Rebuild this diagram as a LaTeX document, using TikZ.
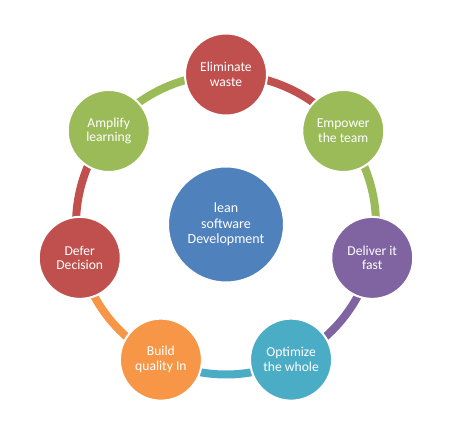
\documentclass[tikz,border=0pt]{standalone}
\usepackage{fontspec}
\setmainfont{Carlito}
\usetikzlibrary{calc}
\definecolor{cred}{HTML}{C0504D}
\definecolor{cgreen}{HTML}{9BBB59}
\definecolor{cpurple}{HTML}{8064A2}
\definecolor{cteal}{HTML}{4BACC6}
\definecolor{corange}{HTML}{F79646}
\definecolor{cblue}{HTML}{4F81BD}
\tikzset{
  bubble/.style={circle, fill=#1, draw=white, line width=2pt, minimum size=82pt,
    inner sep=0pt, align=center, text=white, font=\fontsize{13.6}{14.7}\selectfont},
  hub/.style={circle, fill=cblue, draw=white, line width=2pt, minimum size=116pt,
    inner sep=0pt, align=center, text=white, font=\fontsize{14}{15.7}\selectfont},
  band/.style={line width=8pt, draw=#1}
}
\begin{document}
\begin{tikzpicture}[x=1pt,y=1pt]
\useasboundingbox (0,0) rectangle (450,421);
\coordinate (c) at (226,196.5);
\coordinate (p1) at ($(c)+(90:150)$);
\coordinate (p2) at ($(c)+(38.571:150)$);
\coordinate (p3) at ($(c)+(-12.857:150)$);
\coordinate (p4) at ($(c)+(-64.286:150)$);
\coordinate (p5) at ($(c)+(-115.714:150)$);
\coordinate (p6) at ($(c)+(-167.143:150)$);
\coordinate (p7) at ($(c)+(141.429:150)$);
\draw[band=cred]    (p1) arc[start angle=90, end angle=38.571, radius=150];
\draw[band=cgreen]  (p2) arc[start angle=38.571, end angle=-12.857, radius=150];
\draw[band=cpurple] (p3) arc[start angle=-12.857, end angle=-64.286, radius=150];
\draw[band=cteal]   (p4) arc[start angle=-64.286, end angle=-115.714, radius=150];
\draw[band=corange] (p5) arc[start angle=-115.714, end angle=-167.143, radius=150];
\draw[band=cred]    (p6) arc[start angle=-167.143, end angle=-218.571, radius=150];
\draw[band=cgreen]  (p7) arc[start angle=141.429, end angle=90, radius=150];
\node[hub] (hub) at (c) {lean\\software\\Development};
\node[bubble=cred]    (n1) at (p1) {Eliminate\\waste};
\node[bubble=cgreen]  (n2) at (p2) {Empower\\the team};
\node[bubble=cpurple] (n3) at (p3) {Deliver it\\fast};
\node[bubble=cteal]   (n4) at (p4) {Optimize\\the whole};
\node[bubble=corange] (n5) at (p5) {Build\\quality In};
\node[bubble=cred]    (n6) at (p6) {Defer\\Decision};
\node[bubble=cgreen]  (n7) at (p7) {Amplify\\learning};
\end{tikzpicture}
\end{document}
